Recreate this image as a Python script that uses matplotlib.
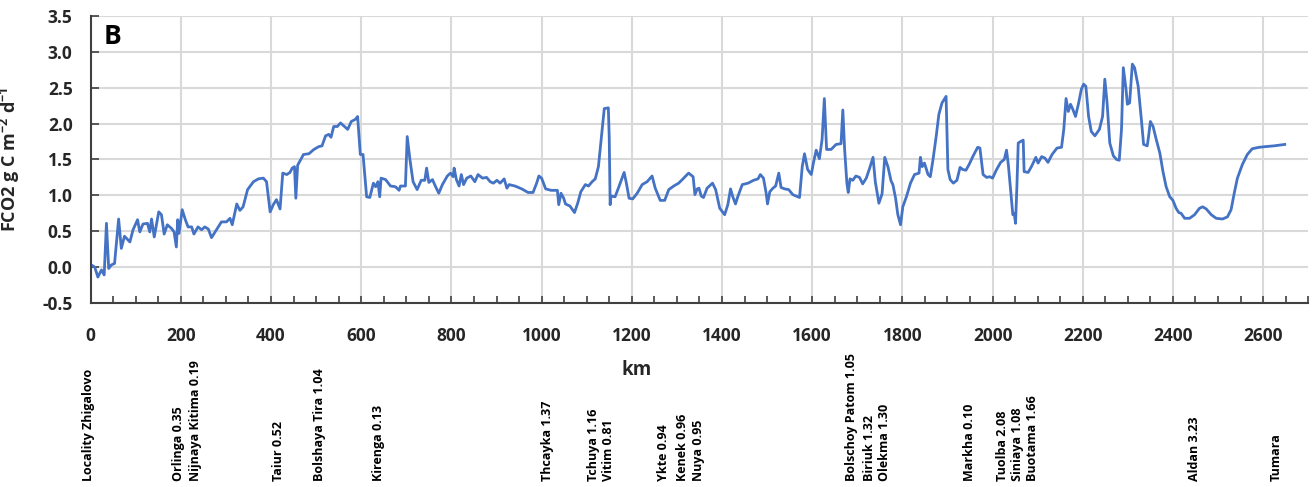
import matplotlib
matplotlib.use("Agg")
import matplotlib.pyplot as plt
import matplotlib.transforms as mtransforms
from matplotlib.ticker import MultipleLocator

plt.rcParams['font.family'] = ['Open Sans', 'DejaVu Sans']

km = [1, 9, 16, 24, 30, 35, 40, 46, 53, 62, 68, 75, 87, 94, 104, 109, 116, 126, 131, 135,
      141, 151, 157, 163, 170, 179, 185, 190, 193, 196, 203, 210, 216, 224, 229, 238, 246,
      253, 261, 268, 279, 290, 301, 309, 314, 324, 331, 338, 348, 361, 372, 383, 390, 398,
      405, 412, 420, 426, 435, 442, 447, 452, 455, 459, 472, 484, 495, 506, 513, 521, 528,
      533, 539, 547, 554, 561, 570, 578, 587, 592, 598, 604, 612, 619, 627, 632, 637, 641,
      644, 654, 665, 676, 684, 687, 698, 702, 708, 715, 724, 733, 741, 745, 750, 758, 765,
      772, 780, 791, 798, 804, 806, 811, 817, 822, 827, 834, 843, 852, 859, 869, 878,
      886, 893, 901, 908, 917, 923, 928, 941, 956, 970, 981, 989, 994, 1000, 1009, 1021,
      1035, 1038, 1043, 1049, 1053, 1063, 1073, 1080, 1087, 1097, 1104, 1112, 1119, 1126,
      1134, 1139, 1148, 1150, 1152, 1154, 1163, 1172, 1183, 1188, 1194, 1202, 1212, 1223,
      1234, 1245, 1252, 1263, 1273, 1282, 1293, 1304, 1312, 1326, 1336, 1340, 1345, 1349,
      1354, 1359, 1367, 1379, 1386, 1395, 1406, 1413, 1419, 1424, 1430, 1435, 1445, 1458,
      1470, 1480, 1485, 1492, 1498, 1501, 1506, 1513, 1519, 1526, 1531, 1539, 1548, 1557,
      1572, 1578, 1583, 1590, 1598, 1603, 1609, 1616, 1622, 1627, 1632, 1642, 1653, 1664,
      1668, 1672, 1677, 1680, 1684, 1690, 1697, 1705, 1712, 1720, 1727, 1735, 1740, 1748,
      1755, 1761, 1768, 1775, 1779, 1785, 1790, 1796, 1801, 1809, 1818, 1827, 1837, 1840,
      1844, 1849, 1857, 1862, 1868, 1875, 1881, 1888, 1897, 1901, 1906, 1913, 1921, 1928,
      1934, 1941, 1948, 1957, 1967, 1972, 1979, 1987, 1994, 2000, 2009, 2018, 2026, 2031,
      2035, 2040, 2045, 2048, 2051, 2054, 2057, 2062, 2068, 2070, 2079, 2087, 2096, 2101,
      2109, 2116, 2123, 2132, 2143, 2153, 2158, 2163, 2168, 2173, 2178, 2184, 2191, 2197,
      2202, 2207, 2213, 2219, 2227, 2237, 2244, 2249, 2254, 2260, 2268, 2275, 2281, 2286,
      2290, 2296, 2299, 2304, 2310, 2315, 2323, 2330, 2335, 2343, 2346, 2350, 2356, 2363,
      2371, 2378, 2385, 2393, 2400, 2407, 2413, 2418, 2426, 2437, 2448, 2459, 2466, 2474,
      2485, 2496, 2510, 2521, 2529, 2536, 2543, 2554, 2565, 2576, 2591, 2606, 2624, 2648]

fco2 = [0.03, 0.00, -0.14, -0.04, -0.11, 0.61, -0.02, 0.03, 0.05, 0.67, 0.26, 0.43, 0.35,
        0.52, 0.66, 0.49, 0.60, 0.61, 0.49, 0.67, 0.42, 0.77, 0.73, 0.46, 0.59, 0.54, 0.49,
        0.28, 0.66, 0.47, 0.80, 0.66, 0.56, 0.56, 0.46, 0.56, 0.52, 0.56, 0.53, 0.41, 0.52,
        0.63, 0.63, 0.68, 0.59, 0.88, 0.79, 0.84, 1.08, 1.19, 1.23, 1.24, 1.19, 0.77, 0.87,
        0.94, 0.81, 1.31, 1.29, 1.32, 1.38, 1.40, 0.96, 1.42, 1.57, 1.58, 1.64, 1.68, 1.69,
        1.83, 1.85, 1.81, 1.96, 1.96, 2.01, 1.97, 1.92, 2.03, 2.06, 2.10, 1.57, 1.57, 0.98,
        0.97, 1.17, 1.12, 1.19, 0.98, 1.24, 1.22, 1.13, 1.12, 1.07, 1.13, 1.13, 1.82, 1.50,
        1.19, 1.08, 1.21, 1.21, 1.38, 1.18, 1.22, 1.12, 1.03, 1.15, 1.27, 1.31, 1.26, 1.38,
        1.22, 1.13, 1.29, 1.15, 1.24, 1.27, 1.19, 1.29, 1.24, 1.25,
        1.19, 1.17, 1.21, 1.17, 1.23, 1.10, 1.15, 1.13, 1.09, 1.04, 1.04, 1.17, 1.27, 1.24,
        1.09, 1.07, 1.07, 0.87, 1.03, 0.96, 0.88, 0.85, 0.76, 0.89, 1.05, 1.15, 1.13, 1.19,
        1.23, 1.40, 1.89, 2.21, 2.22, 1.80, 0.87, 0.99, 0.98, 1.13, 1.32, 1.17, 0.96, 0.95,
        1.03, 1.15, 1.19, 1.27, 1.10, 0.93, 0.93, 1.08, 1.13, 1.17, 1.22, 1.31, 1.26, 1.01,
        1.09, 1.10, 0.99, 0.97, 1.10, 1.17, 1.08, 0.82, 0.73, 0.87, 1.09, 0.98, 0.88, 0.98,
        1.15, 1.17, 1.21, 1.23, 1.29, 1.24, 1.03, 0.88, 1.05, 1.10, 1.13, 1.31, 1.11, 1.09,
        1.08, 1.01, 0.97, 1.40, 1.58, 1.36, 1.29, 1.46, 1.63, 1.51, 1.78, 2.35, 1.64, 1.64,
        1.71, 1.72, 2.19, 1.64, 1.17, 1.04, 1.23, 1.21, 1.27, 1.25, 1.16, 1.24, 1.37, 1.53,
        1.19, 0.89, 1.02, 1.53, 1.40, 1.20, 1.15, 0.96, 0.73, 0.59, 0.84, 0.98, 1.17, 1.29,
        1.31, 1.53, 1.40, 1.45, 1.29, 1.26, 1.50, 1.82, 2.13, 2.29, 2.38, 1.36, 1.22, 1.17,
        1.21, 1.39, 1.36, 1.35, 1.43, 1.55, 1.67, 1.66, 1.29, 1.25, 1.26, 1.24, 1.36, 1.46,
        1.50, 1.63, 1.43, 1.08, 0.73, 0.75, 0.61, 1.12, 1.73, 1.75, 1.77, 1.33, 1.32, 1.41,
        1.53, 1.45, 1.54, 1.52, 1.46, 1.57, 1.66, 1.67, 1.92, 2.35, 2.17, 2.27, 2.20, 2.10,
        2.29, 2.48, 2.55, 2.52, 2.10, 1.89, 1.83, 1.92, 2.10, 2.62, 2.29, 1.73, 1.55, 1.50,
        1.49, 1.92, 2.78, 2.48, 2.27, 2.29, 2.83, 2.78, 2.52, 2.06, 1.71, 1.69, 1.82, 2.03,
        1.96, 1.78, 1.59, 1.33, 1.12, 0.98, 0.93, 0.82, 0.76, 0.75, 0.68, 0.68, 0.73, 0.82,
        0.84, 0.81, 0.73, 0.68, 0.67, 0.70, 0.80, 1.03, 1.24, 1.43, 1.57, 1.65, 1.67, 1.68,
        1.69, 1.71]

station_names = ["Locality Zhigalovo", "Orlinga 0.35", "Nijnaya Kitima 0.19", "Taiur 0.52",
                 "Bolshaya Tira 1.04", "Kirenga 0.13", "Thcayka 1.37", "Tchuya 1.16",
                 "Vitim 0.81", "Ykte 0.94", "Kenek 0.96", "Nuya 0.95",
                 "Bolschoy Patom 1.05", "Biriuk 1.32", "Olekma 1.30", "Markha 0.10",
                 "Tuolba 2.08", "Siniaya 1.08", "Buotama 1.66", "Aldan 3.23", "Tumara"]
station_km = [-5, 195, 232, 416, 507, 638, 1012, 1114, 1148, 1270, 1313, 1349,
              1687, 1727, 1761, 1949, 2022, 2055, 2088, 2447, 2629]

fig = plt.figure(figsize=(13.12, 4.87), dpi=100)
ax = fig.add_axes([0.0691, 0.378, 0.928, 0.589])

ax.plot(km, fco2, color='#4472C4', lw=2.0, solid_joinstyle='round')

ax.set_xlim(0, 2700)
ax.set_ylim(-0.5, 3.5)
ax.xaxis.set_major_locator(MultipleLocator(200))
ax.xaxis.set_minor_locator(MultipleLocator(50))
ax.yaxis.set_major_locator(MultipleLocator(0.5))
ax.yaxis.set_major_formatter(plt.FormatStrFormatter('%.1f'))
ax.grid(True, which='major', color='#d9d9d9', lw=1.5)
ax.set_axisbelow(True)
for s in ['top', 'right']:
    ax.spines[s].set_visible(False)
for s in ['left', 'bottom']:
    ax.spines[s].set_color('#404040')
    ax.spines[s].set_linewidth(1.5)

ax.tick_params(axis='x', which='both', direction='in', length=5, width=1.2,
               color='#404040', pad=17, labelsize=12.5)
ax.tick_params(axis='y', which='major', direction='in', length=6, width=1.2,
               color='#404040', pad=13, labelsize=12.5)
for lbl in ax.get_xticklabels() + ax.get_yticklabels():
    lbl.set_fontweight('bold')
    lbl.set_color('#262626')

ax.set_ylabel("FCO2 g C m$^{\\mathregular{-2}}$ d$^{\\mathregular{-1}}$",
              fontsize=13, fontweight='bold', color='#262626')
ax.yaxis.set_label_coords(-0.056, 0.5)

fig.text(637 / 1312, 1 - 370 / 487, "km", ha='center', va='center',
         fontsize=13.5, fontweight='bold', color='#262626')
fig.text(113 / 1312, 1 - 36 / 487, "B", ha='center', va='center',
         fontsize=19, fontweight='bold', color='black')

trans = mtransforms.blended_transform_factory(ax.transData, fig.transFigure)
for name, x in zip(station_names, station_km):
    ax.text(x, 1 - 481 / 487, name, transform=trans, rotation=90,
            ha='center', va='bottom', fontsize=9, fontweight='bold',
            color='black', clip_on=False)

fig.savefig("out.png", dpi=100)
